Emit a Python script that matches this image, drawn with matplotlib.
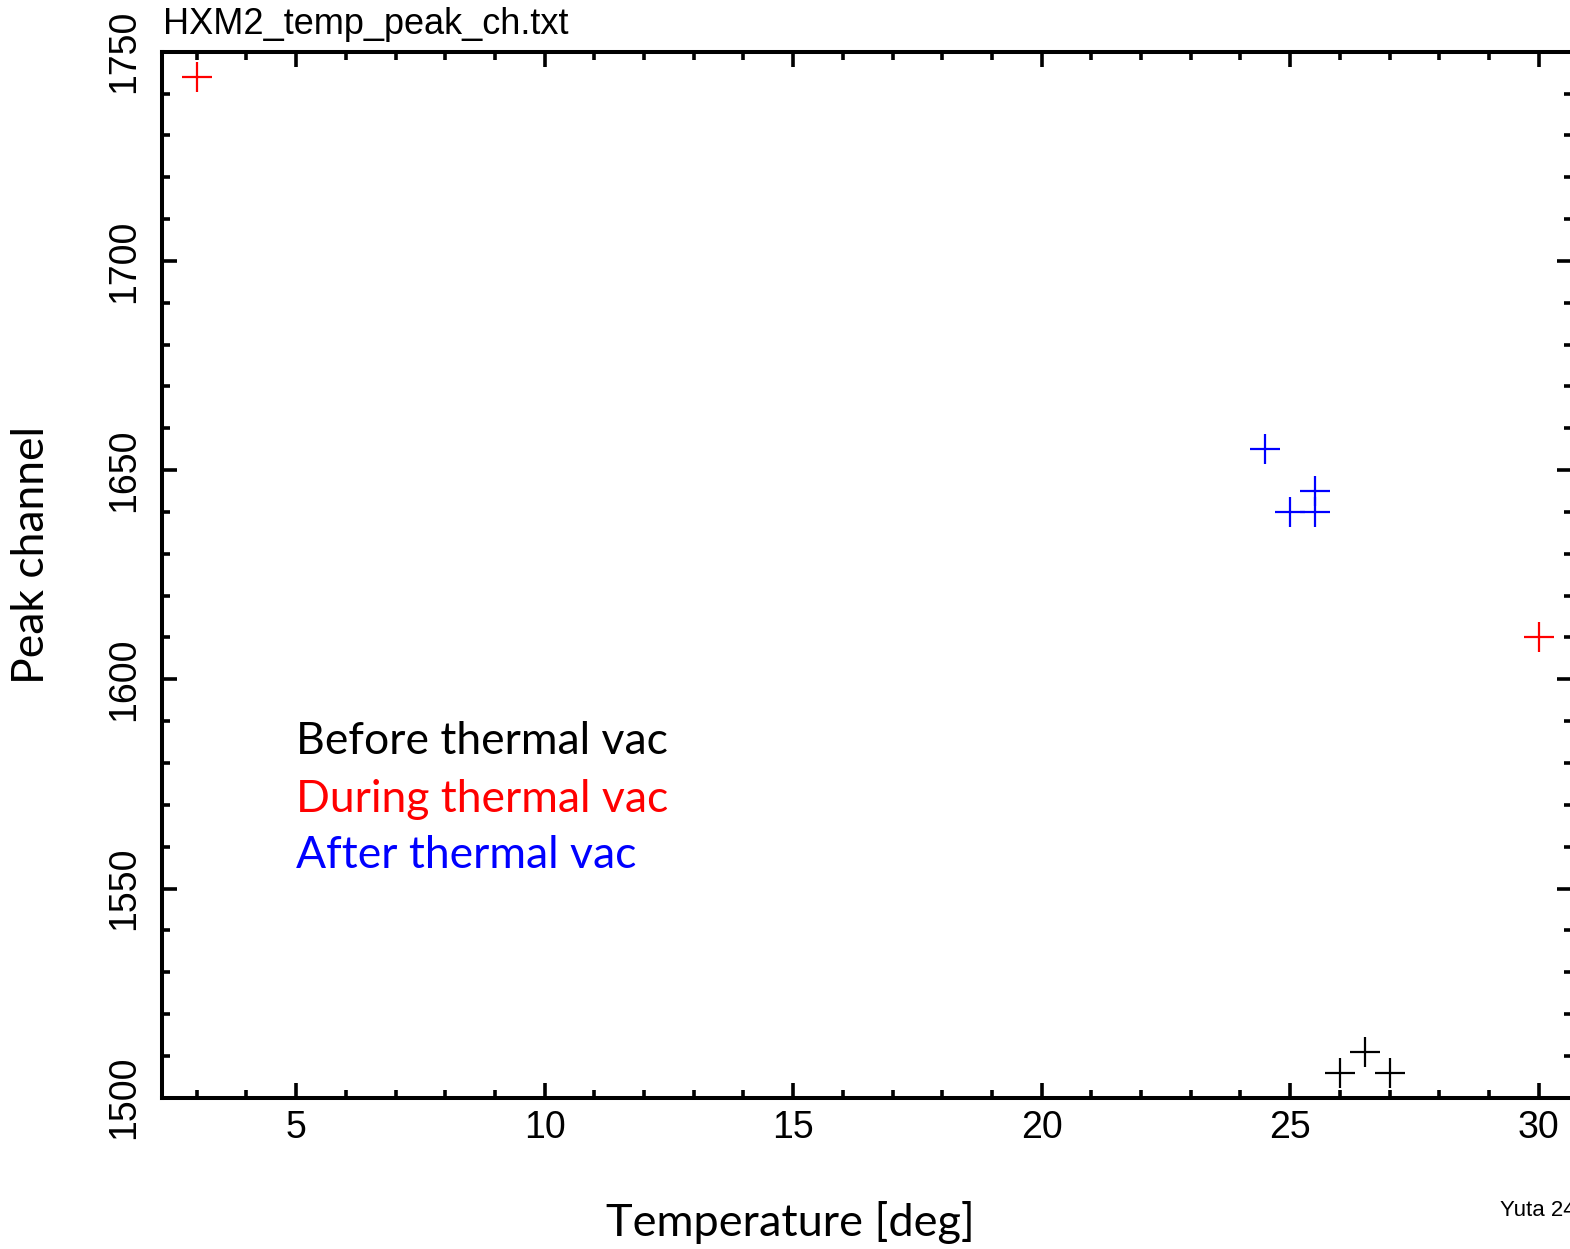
import matplotlib
matplotlib.use("Agg")
import matplotlib.pyplot as plt
from matplotlib.ticker import MultipleLocator

# peak channel vs temperature, grouped by thermal vacuum phase
before_temp = [26.0, 26.5, 27.0]
before_peak = [1506, 1511, 1506]
during_temp = [3.0, 30.0]
during_peak = [1744, 1610]
after_temp = [24.5, 25.0, 25.5, 25.5]
after_peak = [1655, 1640, 1640, 1645]

group_labels = ["Before thermal vac", "During thermal vac", "After thermal vac"]
group_colors = ["black", "#ff0000", "#0000ff"]

W, H = 1570, 1249
fig = plt.figure(figsize=(W / 100, H / 100), dpi=100)
ax = fig.add_axes([162 / W, 1 - 1097.7 / H, 1410 / W, (1097.7 - 51.7) / H])

mk = dict(marker="+", linestyle="none", markersize=22, markeredgewidth=1.6)
ax.plot(before_temp, before_peak, color=group_colors[0], **mk)
ax.plot(during_temp, during_peak, color=group_colors[1], **mk)
ax.plot(after_temp, after_peak, color=group_colors[2], **mk)

ax.set_xlim(2.3, 30.67)
ax.set_ylim(1500, 1750)
ax.xaxis.set_major_locator(MultipleLocator(5))
ax.xaxis.set_minor_locator(MultipleLocator(1))
ax.yaxis.set_major_locator(MultipleLocator(50))
ax.yaxis.set_minor_locator(MultipleLocator(10))

for s in ax.spines.values():
    s.set_linewidth(2.9)
ax.tick_params(which="both", direction="in", top=True, right=True, width=2.6)
ax.tick_params(which="major", length=11)
ax.tick_params(which="minor", length=5.5)
ax.tick_params(axis="x", labelsize=27, pad=9)
ax.tick_params(axis="y", labelsize=27, pad=14)
for lab in ax.get_yticklabels():
    lab.set_rotation(90)
    lab.set_va("center")
for lab in ax.get_xticklabels() + ax.get_yticklabels():
    lab.set_family("Liberation Sans")

fig.text(163 / W, 1 - 24 / H, "HXM2_temp_peak_ch.txt", fontsize=26,
         family="Liberation Sans", va="center", ha="left")
fig.text(32 / W, 1 - 555 / H, "Peak channel", fontsize=32, family="Lato",
         rotation=90, va="center", ha="center")
fig.text(790 / W, 1 - 1222 / H, "Temperature [deg]", fontsize=32.5, family="Lato",
         va="center", ha="center")
# signature at the lower right, runs off the page edge
fig.text(1500 / W, 1 - 1210 / H, "Yuta 24", fontsize=16,
         family="Liberation Sans", va="center", ha="left")

for i, (lab, col) in enumerate(zip(group_labels, group_colors)):
    fig.text(296 / W, 1 - (742 + 57 * i) / H, lab, color=col, fontsize=32,
             family="Lato", va="center", ha="left")

fig.savefig("out.png", dpi=100)
